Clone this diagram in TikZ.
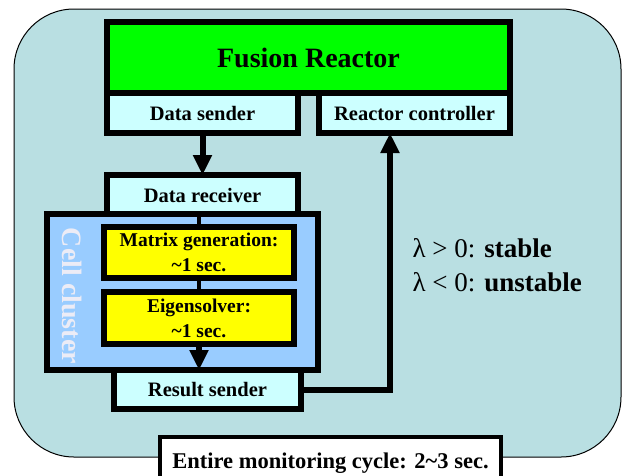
\documentclass[tikz,border=0pt]{standalone}
\usepackage{fontspec}
\setmainfont{Liberation Serif}
\usepackage{tikz}
\usetikzlibrary{positioning,arrows.meta}

\definecolor{bgteal}{RGB}{185,223,226}
\definecolor{reactorgreen}{RGB}{0,255,0}
\definecolor{palecyan}{RGB}{204,255,255}
\definecolor{solveryellow}{RGB}{255,255,0}
\definecolor{clusterblue}{RGB}{153,204,255}
\definecolor{labelwhite}{RGB}{236,236,246}

\begin{document}
\begin{tikzpicture}[
  x=1pt, y=-1pt,
  every node/.style={font=\fontsize{20.5}{25}\selectfont\bfseries},
  blk/.style={draw, line width=5.5pt, inner sep=0pt, outer sep=0pt, align=center},
  io/.style={blk, fill=palecyan, minimum width=191pt, minimum height=40pt},
  solver/.style={blk, fill=solveryellow, minimum width=190pt, minimum height=51pt, font=\fontsize{19.5}{25}\selectfont\bfseries},
  arr/.style={-{Triangle[length=20pt,width=18pt]}, line width=6pt},
  stub/.style={line width=4pt}
]
\useasboundingbox (0,0) rectangle (622,475);

\node[draw, line width=1pt, fill=bgteal, rounded corners=60pt, minimum width=607pt, minimum height=448pt, inner sep=0pt] (frame) at (317.5,233) {};

\node[blk, fill=reactorgreen, minimum width=403pt, minimum height=71pt, font=\fontsize{28}{32}\selectfont\bfseries] (reactor) at (308.5,57.5) {Fusion Reactor};
\node[io, anchor=north west] (dsend) at (reactor.south west) {Data sender};
\node[io, anchor=north east] (rctrl) at (reactor.south east) {Reactor controller};
\node[io, below=42pt of dsend] (drecv) {Data receiver};

\node[blk, fill=clusterblue, minimum width=271pt, minimum height=156pt] (cluster) at (182.5,292) {};
\node[solver] (mgen) at (199,252.5) {Matrix generation:\\\textasciitilde1 sec.};
\node[solver, below=14pt of mgen, minimum height=52pt] (eig) {Eigensolver:\\\textasciitilde1 sec.};
\node[io, minimum width=187pt, minimum height=39pt] (rsend) at (207.5,389.5) {Result sender};
\node[rotate=-90, text=labelwhite, font=\fontsize{28}{32}\selectfont\bfseries] (clabel) at (72,296) {Cell cluster};

\node[anchor=west, align=left, font=\fontsize{27}{34}\selectfont] (stab) at (409,265) {λ > 0: \textbf{stable}\\λ < 0: \textbf{unstable}};

\node[blk, line width=4pt, fill=white, minimum width=341pt, minimum height=52pt, font=\fontsize{22.5}{26}\selectfont\bfseries] (cycle) at (330.5,463) {Entire monitoring cycle: 2\textasciitilde3 sec.};

\draw[arr] (dsend) -- (drecv);
\draw[stub] (mgen.north) -- (mgen.north |- drecv.south);
\draw[stub] (mgen) -- (eig);
\draw[arr] (eig.south) -- (eig.south |- rsend.north);
\draw[arr] (rsend.east) -| ([xshift=-24.5pt]rctrl.south);
\end{tikzpicture}
\end{document}
